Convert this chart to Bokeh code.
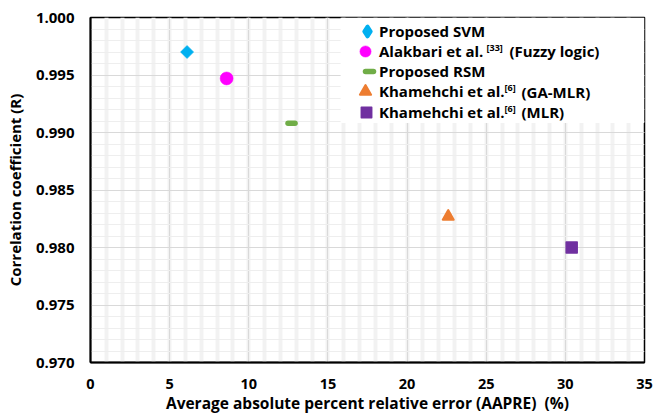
from math import pi

from bokeh.embed import file_html
from bokeh.models import (BoxAnnotation, Label, Legend, LegendItem,
                          NumeralTickFormatter, Range1d, SingleIntervalTicker)
from bokeh.plotting import figure
from bokeh.resources import INLINE

# --- data -------------------------------------------------------------
models = ["Proposed SVM", "Alakbari et al.", "Proposed RSM",
          "Khamehchi et al.", "Khamehchi et al."]
refs = ["", "[33]", "", "[6]", "[6]"]
methods = ["", "(Fuzzy logic)", "", "(GA-MLR)", "(MLR)"]
aapre = [6.1, 8.6, 12.7, 22.6, 30.4]
corr_r = [0.9970, 0.9947, 0.9908, 0.9827, 0.9800]

FONT = "Open Sans"

p = figure(width=656, height=416, output_backend="svg", toolbar_location=None,
           x_range=Range1d(0, 35), y_range=Range1d(0.970, 1.000),
           min_border_left=90, min_border_right=12, min_border_top=17,
           min_border_bottom=53, background_fill_color="white",
           border_fill_color="white")

p.outline_line_color = "black"
p.outline_line_width = 1.5

# axes
p.xaxis.ticker = SingleIntervalTicker(interval=5, num_minor_ticks=5)
p.yaxis.ticker = SingleIntervalTicker(interval=0.005, num_minor_ticks=5)
p.yaxis.formatter = NumeralTickFormatter(format="0.000")
for ax in (p.xaxis, p.yaxis):
    ax.axis_line_color = "black"
    ax.axis_line_width = 2
    ax.major_tick_in = 0
    ax.major_tick_out = 0
    ax.minor_tick_in = 0
    ax.minor_tick_out = 0
    ax.major_label_text_font = FONT
    ax.major_label_text_font_style = "bold"
    ax.major_label_text_color = "black"
    ax.axis_label_text_font = FONT
    ax.axis_label_text_font_style = "bold"
    ax.axis_label_text_font_size = "15px"
    ax.axis_label_text_color = "black"
p.xaxis.axis_label_text_font_size = "15.5px"
p.xaxis.major_label_text_font_size = "14.5px"
p.yaxis.major_label_text_font_size = "15px"
p.xaxis.major_label_standoff = 16
p.yaxis.major_label_standoff = 16
p.xaxis.axis_label_standoff = 0
p.yaxis.axis_label_standoff = 8
p.xaxis.axis_label = "Average absolute percent relative error (AAPRE)\u00a0\u00a0(%)"
p.yaxis.axis_label = "Correlation coefficient (R)"

# grids: light bands at every unit of x, thin minor lines in y
p.xgrid.grid_line_color = "#d9d9d9"
p.xgrid.grid_line_width = 1
p.xgrid.minor_grid_line_color = "#f2f2f2"
p.xgrid.minor_grid_line_width = 4
p.ygrid.grid_line_color = "#d9d9d9"
p.ygrid.grid_line_width = 1
p.ygrid.minor_grid_line_color = "#eeeeee"
p.ygrid.minor_grid_line_width = 1

# white panel behind the key
p.add_layout(BoxAnnotation(left=15.8, right=35, bottom=0.99082, top=1.0,
                           fill_color="white", fill_alpha=1.0,
                           line_color=None, level="underlay"))

# --- markers ----------------------------------------------------------
r_svm = p.scatter([aapre[0]], [corr_r[0]], marker="square", angle=pi / 4,
                  size=9, fill_color="#00B0F0", line_color="#00B0F0",
                  line_width=1, line_join="round")
# same point as a plain diamond, only used as the key swatch
r_svm_key = p.scatter([aapre[0]], [corr_r[0]], marker="diamond", size=9,
                      fill_color="#00B0F0", line_color="#00B0F0",
                      line_width=4, line_join="round", visible=False)
r_fuzzy = p.scatter([aapre[1]], [corr_r[1]], marker="circle", size=13,
                    fill_color="#FF00FF", line_color="#FF00FF", line_width=0.5)
r_rsm = p.scatter([aapre[2]], [corr_r[2]], marker="dash", size=7,
                  line_color="#70AD47", line_width=5.5, line_cap="round")
r_ga = p.scatter([aapre[3]], [corr_r[3]], marker="triangle", size=11,
                 fill_color="#ED7D31", line_color="#ED7D31", line_width=2,
                 line_join="round")
r_mlr = p.scatter([aapre[4]], [corr_r[4]], marker="square", size=11,
                  fill_color="#7030A0", line_color="#7030A0", line_width=1.5,
                  line_join="round")
key_renderers = [r_svm_key, r_fuzzy, r_rsm, r_ga, r_mlr]
key_boxes = [24, 28, 20, 28, 26]

# --- key ----------------------------------------------------------------
FRAME_TOP = 17
FRAME_H = 346
TEXT_X = 289         # key text start, px from frame left
ROW0 = 31.7          # first row centre, px from canvas top
ROW_STEP = 20.25
REF_X = [0, 396, 0, 414, 414]
METHOD_X = [0, 419, 0, 431, 431]

for i, (rend, box) in enumerate(zip(key_renderers, key_boxes)):
    cy = ROW0 + i * ROW_STEP
    fy = FRAME_H - (cy - FRAME_TOP)
    leg = Legend(items=[LegendItem(label=models[i], renderers=[rend])],
                 location=(TEXT_X - box, fy - box / 2),
                 glyph_width=box, glyph_height=box, label_height=box,
                 label_standoff=0, padding=0, margin=0,
                 border_line_color=None, background_fill_alpha=0,
                 inactive_fill_alpha=0,
                 label_text_font=FONT, label_text_font_style="bold",
                 label_text_font_size="15px", label_text_color="black")
    p.add_layout(leg)
    if refs[i]:
        p.add_layout(Label(x=REF_X[i], y=fy + 4, x_units="screen",
                           y_units="screen", text=refs[i], text_font=FONT,
                           text_font_style="bold", text_font_size="9px",
                           text_baseline="middle", text_color="black"))
        p.add_layout(Label(x=METHOD_X[i], y=fy, x_units="screen",
                           y_units="screen", text=methods[i], text_font=FONT,
                           text_font_style="bold", text_font_size="15px",
                           text_baseline="middle", text_color="black"))

open("out.html", "w").write(file_html(p, INLINE))
